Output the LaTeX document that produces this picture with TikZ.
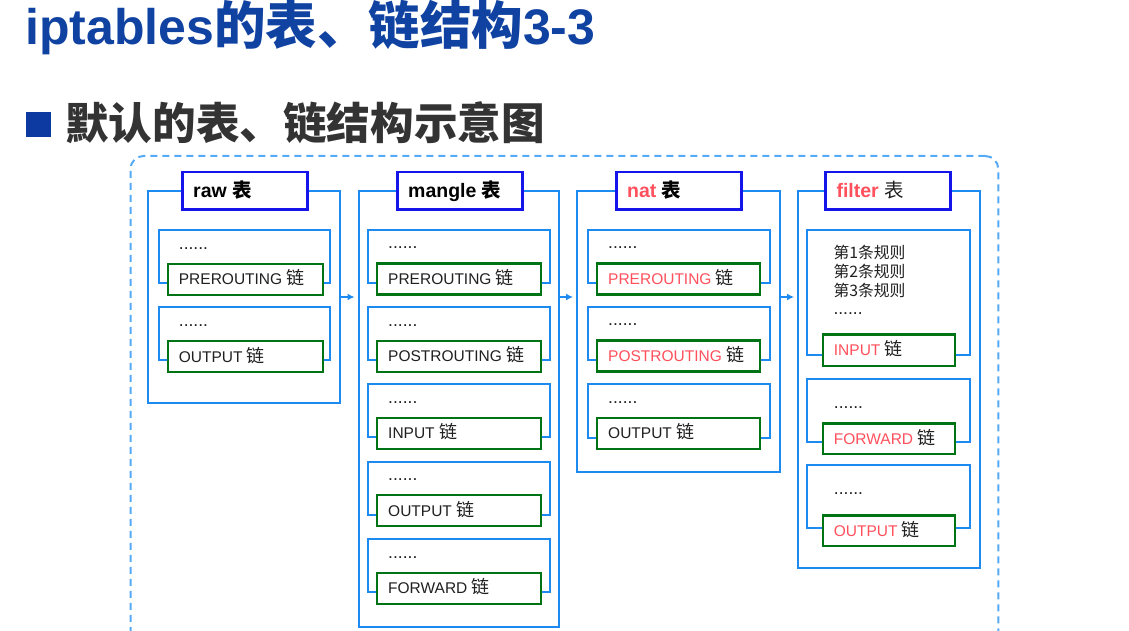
\documentclass[tikz,border=0pt]{standalone}
\usepackage{fontspec}
\setmainfont{Liberation Sans}
\newfontfamily\cjk{Noto Sans CJK SC}
\usetikzlibrary{arrows.meta}
\definecolor{lineblue}{RGB}{28,138,240}
\definecolor{dashblue}{RGB}{85,170,245}
\definecolor{hdrblue}{RGB}{20,20,235}
\definecolor{chaingreen}{RGB}{0,115,20}
\definecolor{redtext}{RGB}{255,80,92}
\definecolor{darktext}{RGB}{32,32,32}
\definecolor{titleblue}{RGB}{16,66,162}
\definecolor{subgray}{RGB}{51,51,51}
\definecolor{squareblue}{RGB}{12,58,160}
\newcommand\zh[1]{{\cjk #1}}
\newcommand\lian{{\cjk\fontsize{18}{18}\selectfont 链}}
\newcommand\rd[1]{{\color{redtext}#1}}
\begin{document}
\begin{tikzpicture}[x=1pt,y=-1pt,
  box/.style={draw, rectangle, inner sep=0pt, anchor=north west},
  tablebox/.style={box, draw=lineblue, line width=2pt},
  hdrbox/.style={box, draw=hdrblue, line width=2.5pt, fill=white, minimum width=125pt, minimum height=37pt},
  rulebox/.style={box, draw=lineblue, line width=2pt, minimum height=53pt},
  chainbox/.style={box, draw=chaingreen, line width=2.2pt, fill=white, minimum height=31pt},
  chaintext/.style={anchor=base west, inner sep=0pt, text=darktext, font=\fontsize{15.5}{16}\selectfont},
  hdrtext/.style={anchor=base west, inner sep=0pt, text=black, font=\fontsize{19.5}{20}\selectfont\bfseries},
  dotstext/.style={anchor=base west, inner sep=0pt, text=darktext, font=\fontsize{17.5}{18}\selectfont},
  ruletext/.style={anchor=base west, inner sep=0pt, text=darktext, font=\cjk\fontsize{15.8}{16}\selectfont},
  arrowline/.style={draw=lineblue, line width=1.8pt, -{Latex[length=7pt,width=7pt]}},
  outerdash/.style={draw=dashblue, line width=2pt, dash pattern=on 7pt off 5pt, rounded corners=13pt, rectangle, inner sep=0pt, anchor=north west}
]
\useasboundingbox (0,0) rectangle (1129,631);
\fill[white] (0,0) rectangle (1129,631);
\clip (0,0) rectangle (1129,631);

% titles
\node[anchor=base west, inner sep=0pt, text=titleblue, font=\fontsize{50}{50}\selectfont\bfseries] (title) at (25,44.5) {iptables{\cjk\fontsize{51.5}{52}\selectfont 的表、链结构}3-3};
\node[fill=squareblue, minimum width=24.5pt, minimum height=24.5pt, inner sep=0pt, anchor=north west] (bullet) at (26,112) {};
\node[anchor=west, inner sep=0pt, text=subgray, font=\cjk\fontsize{43.6}{44}\selectfont\bfseries] (subtitle) at (65,123) {默认的表、链结构示意图};

% dashed frame
\node[outerdash, minimum width=867.8pt, minimum height=545pt] (frame) at (129.5,155) {};

% ---------- raw ----------
\node[tablebox, minimum width=192pt, minimum height=212pt] (raw) at (147,190) {};
\node[hdrbox] (rawh) at (181,171) {};
\node[hdrtext] (rawht) at ([xshift=12pt,yshift=-6.5pt]rawh.west) {raw \zh{表}};
\node[rulebox, minimum width=171pt] (rawr1) at (158,229) {};
\node[chainbox, minimum width=155pt] (rawc1) at (166.7,262.7) {};
\node[dotstext] (rawd1) at ([xshift=12pt,yshift=13.5pt]rawc1.north west) {......};
\node[chaintext] (rawt1) at ([xshift=12pt,yshift=-5.5pt]rawc1.west) {PREROUTING \lian};
\node[rulebox, minimum width=171pt] (rawr2) at (158,306) {};
\node[chainbox, minimum width=155pt] (rawc2) at (166.7,340) {};
\node[dotstext] (rawd2) at ([xshift=12pt,yshift=13.5pt]rawc2.north west) {......};
\node[chaintext] (rawt2) at ([xshift=12pt,yshift=-5.5pt]rawc2.west) {OUTPUT \lian};

% ---------- mangle ----------
\node[tablebox, minimum width=200.5pt, minimum height=436pt] (mangle) at (357.5,190) {};
\node[hdrbox] (mangleh) at (396,171) {};
\node[hdrtext] (mangleht) at ([xshift=12pt,yshift=-6.5pt]mangleh.west) {mangle \zh{表}};
\node[rulebox, minimum width=182pt] (mr1) at (367.3,229) {};
\node[chainbox, minimum width=164pt] (mc1) at (376,262.3) {};
\node[dotstext] (md1) at ([xshift=12pt,yshift=13.5pt]mc1.north west) {......};
\node[chaintext] (mt1) at ([xshift=12pt,yshift=-5.5pt]mc1.west) {PREROUTING \lian};
\node[rulebox, minimum width=182pt] (mr2) at (367.3,306.2) {};
\node[chainbox, minimum width=164pt] (mc2) at (376,339.5) {};
\node[dotstext] (md2) at ([xshift=12pt,yshift=13.5pt]mc2.north west) {......};
\node[chaintext] (mt2) at ([xshift=12pt,yshift=-5.5pt]mc2.west) {POSTROUTING \lian};
\node[rulebox, minimum width=182pt] (mr3) at (367.3,383.4) {};
\node[chainbox, minimum width=164pt] (mc3) at (376,416.7) {};
\node[dotstext] (md3) at ([xshift=12pt,yshift=13.5pt]mc3.north west) {......};
\node[chaintext] (mt3) at ([xshift=12pt,yshift=-5.5pt]mc3.west) {INPUT \lian};
\node[rulebox, minimum width=182pt] (mr4) at (367.3,460.6) {};
\node[chainbox, minimum width=164pt] (mc4) at (376,494) {};
\node[dotstext] (md4) at ([xshift=12pt,yshift=13.5pt]mc4.north west) {......};
\node[chaintext] (mt4) at ([xshift=12pt,yshift=-5.5pt]mc4.west) {OUTPUT \lian};
\node[rulebox, minimum width=182pt] (mr5) at (367.3,537.8) {};
\node[chainbox, minimum width=164pt] (mc5) at (376,571.5) {};
\node[dotstext] (md5) at ([xshift=12pt,yshift=13.5pt]mc5.north west) {......};
\node[chaintext] (mt5) at ([xshift=12pt,yshift=-5.5pt]mc5.west) {FORWARD \lian};

% ---------- nat ----------
\node[tablebox, minimum width=203pt, minimum height=281pt] (nat) at (576,190) {};
\node[hdrbox] (nath) at (615,171) {};
\node[hdrtext] (natht) at ([xshift=12pt,yshift=-6.5pt]nath.west) {\rd{nat} \zh{表}};
\node[rulebox, minimum width=182pt] (nr1) at (587.3,229) {};
\node[chainbox, minimum width=163pt] (nc1) at (596,262.3) {};
\node[dotstext] (nd1) at ([xshift=12pt,yshift=13.5pt]nc1.north west) {......};
\node[chaintext] (nt1) at ([xshift=12pt,yshift=-5.5pt]nc1.west) {\rd{PREROUTING} \lian};
\node[rulebox, minimum width=182pt] (nr2) at (587.3,306.2) {};
\node[chainbox, minimum width=163pt] (nc2) at (596,339.3) {};
\node[dotstext] (nd2) at ([xshift=12pt,yshift=13.5pt]nc2.north west) {......};
\node[chaintext] (nt2) at ([xshift=12pt,yshift=-5.5pt]nc2.west) {\rd{POSTROUTING} \lian};
\node[rulebox, minimum width=182pt, minimum height=54pt] (nr3) at (587.3,383.4) {};
\node[chainbox, minimum width=163pt] (nc3) at (596,416.5) {};
\node[dotstext] (nd3) at ([xshift=12pt,yshift=13.5pt]nc3.north west) {......};
\node[chaintext] (nt3) at ([xshift=12pt,yshift=-5.5pt]nc3.west) {OUTPUT \lian};

% ---------- filter ----------
\node[tablebox, minimum width=182pt, minimum height=377pt] (filter) at (797,190) {};
\node[hdrbox] (filterh) at (824.3,171) {};
\node[hdrtext] (filterht) at ([xshift=12pt,yshift=-6.5pt]filterh.west) {\rd{filter} {\mdseries\color{darktext}\zh{表}}};
\node[rulebox, minimum width=163.3pt, minimum height=125pt] (fr1) at (806,229) {};
\node[chainbox, minimum width=132.3pt, minimum height=31.5pt] (fc1) at (821.7,333.3) {};
\node[ruletext] (fl1) at (833.3,258) {第1条规则};
\node[ruletext] (fl2) at (833.3,277) {第2条规则};
\node[ruletext] (fl3) at (833.3,296) {第3条规则};
\node[dotstext] (fd1) at (833.3,314.5) {......};
\node[chaintext] (ft1) at ([xshift=12pt,yshift=-5.5pt]fc1.west) {\rd{INPUT} \lian};
\node[rulebox, minimum width=163.3pt, minimum height=62.7pt] (fr2) at (806,378.3) {};
\node[chainbox, minimum width=132.3pt, minimum height=30.5pt] (fc2) at (821.7,422.3) {};
\node[dotstext] (fd2) at ([xshift=12pt,yshift=14.3pt]fc2.north west) {......};
\node[chaintext] (ft2) at ([xshift=12pt,yshift=-5.5pt]fc2.west) {\rd{FORWARD} \lian};
\node[rulebox, minimum width=163.3pt, minimum height=63pt] (fr3) at (806,464.3) {};
\node[chainbox, minimum width=132.3pt, minimum height=30.7pt] (fc3) at (821.7,514.3) {};
\node[dotstext] (fd3) at ([xshift=12pt,yshift=19.7pt]fc3.north west) {......};
\node[chaintext] (ft3) at ([xshift=12pt,yshift=-5.5pt]fc3.west) {\rd{OUTPUT} \lian};

% ---------- arrows ----------
\draw[arrowline] (raw.east) -- ([xshift=-3pt]raw.east -| mangle.west);
\draw[arrowline] (raw.east -| mangle.east) -- ([xshift=-3pt]raw.east -| nat.west);
\draw[arrowline] (raw.east -| nat.east) -- ([xshift=-3pt]raw.east -| filter.west);
\end{tikzpicture}
\end{document}
